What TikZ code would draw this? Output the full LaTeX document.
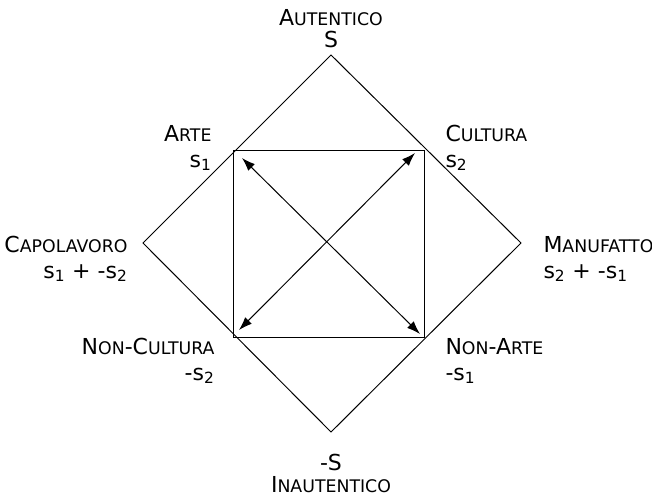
\documentclass[tikz,border=0pt]{standalone}
\usepackage{fontspec}
\setmainfont{DejaVu Sans}
\usetikzlibrary{arrows.meta}
\newcommand{\fsc}[2]{#1{\fontsize{13}{16}\selectfont #2}}

\begin{document}
\begin{tikzpicture}[x=0.75pt, y=-0.75pt, line width=0.75pt, every node/.style={font=\fontsize{16.5}{16}\selectfont, inner sep=0pt}, >={Latex[length=10pt, width=7pt]}]
	\useasboundingbox (0,0) rectangle (652,496);
	\coordinate (top) at (331,55);
	\coordinate (rgt) at (521,243);
	\coordinate (bot) at (331,432);
	\coordinate (lft) at (143,243);
	\coordinate (arte) at (233,150);
	\coordinate (cultura) at (424,150);
	\coordinate (nonarte) at (424,337);
	\coordinate (noncultura) at (233,337);
	\draw (top) -- (rgt) -- (bot) -- (lft) -- cycle;
	\draw (arte) -- (cultura) -- (nonarte) -- (noncultura) -- cycle;
	\draw[<->] ([shift={(9,8)}]arte) -- ([shift={(-4,-3)}]nonarte);
	\draw[<->] ([shift={(6,-7)}]noncultura) -- ([shift={(-9,3)}]cultura);
	\node[anchor=base, align=center] (autentico) at (331,47) {\fsc{A}{UTENTICO}\\S};
	\node[anchor=base east, align=right] (artelbl) at (212,167) {\fsc{A}{RTE}\\[3.5pt]s\textsubscript{1}};
	\node[anchor=base west, align=left] (culturalbl) at (445,167) {\fsc{C}{ULTURA}\\[3.5pt]s\textsubscript{2}};
	\node[anchor=base east, align=right] (capolavoro) at (128,278) {\fsc{C}{APOLAVORO}\\[3.5pt]s\textsubscript{1} + -s\textsubscript{2}};
	\node[anchor=base west, align=left] (manufatto) at (543,278) {\fsc{M}{ANUFATTO}\\[3.5pt]s\textsubscript{2} + -s\textsubscript{1}};
	\node[anchor=base east, align=right] (noncultlbl) at (215,380) {\fsc{N}{ON}-\fsc{C}{ULTURA}\\[3.5pt]-s\textsubscript{2}};
	\node[anchor=base west, align=left] (nonartelbl) at (445,380) {\fsc{N}{ON}-\fsc{A}{RTE}\\[3.5pt]-s\textsubscript{1}};
	\node[anchor=base, align=center] (inautentico) at (331,492) {-S\\\fsc{I}{NAUTENTICO}};
\end{tikzpicture}
\end{document}
